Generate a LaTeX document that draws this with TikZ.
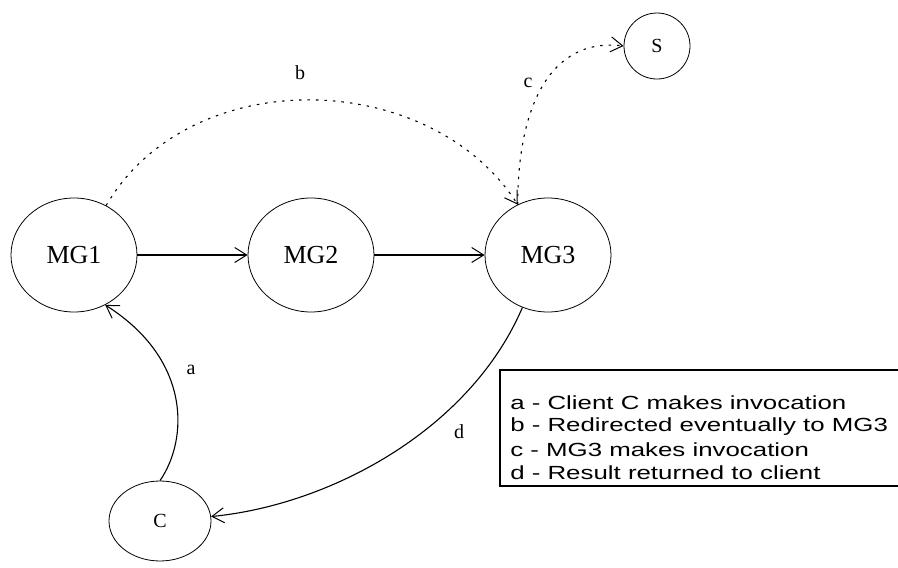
\documentclass[tikz,border=0pt]{standalone}
\usepackage{fontspec}
\setmainfont{Liberation Serif}
\newfontfamily\legfont{Liberation Sans}
\usetikzlibrary{shapes.geometric,arrows.meta}
\begin{document}
\begin{tikzpicture}[x=1pt,y=-1pt,
  mgnode/.style={draw, line width=0.8pt, ellipse, inner sep=0pt, minimum width=126pt, minimum height=114pt, font=\fontsize{26}{30}\selectfont},
  smallnode/.style={draw, line width=0.8pt, ellipse, inner sep=0pt, font=\fontsize{20}{24}\selectfont},
  tip/.style={-{Straight Barb[length=12pt,width=15pt,line width=1pt]}},
  solidcon/.style={tip, line width=1.1pt},
  dotcon/.style={tip, line width=1.1pt, dash pattern=on 2.5pt off 6pt},
  lbl/.style={font=\fontsize{20}{24}\selectfont, inner sep=1pt},
  legline/.style={anchor=west, inner sep=0pt, font=\legfont\fontsize{19}{22}\selectfont, xscale=1.36}
]
\useasboundingbox (0,0) rectangle (898,568);
\node[mgnode] (mg1) at (74,255) {MG1};
\node[mgnode] (mg2) at (311,255) {MG2};
\node[mgnode] (mg3) at (548,255) {MG3};
\node[smallnode, minimum width=102pt, minimum height=80pt] (c) at (160,521) {C};
\node[smallnode, minimum width=66pt, minimum height=66pt] (s) at (657,46) {S};

\draw[solidcon, line width=1.6pt] (mg1) -- (mg2);
\draw[solidcon, line width=1.6pt] (mg2) -- (mg3);

\draw[solidcon] (c.90) .. controls (188,440) and (192,360) .. (mg1.-58);
\draw[solidcon] (mg3.-116) .. controls (470,430) and (330,505) .. (c.5);
\draw[dotcon] (mg1.57) .. controls (190,62) and (430,68) .. (mg3.121);
\draw[dotcon] (mg3.121) .. controls (518,90) and (560,38) .. (s.180);

\node[lbl] (la) at (191,370) {a};
\node[lbl] (lb) at (300,73) {b};
\node[lbl] (lc) at (528,83) {c};
\node[lbl] (ld) at (459,432) {d};

\draw[line width=1.2pt] (898,370) -- (500,370) -- (500,486) -- (898,486);
\node[legline] (l1) at (510,403) {a - Client C makes invocation};
\node[legline] (l2) at (510,427) {b - Redirected eventually to MG3};
\node[legline] (l3) at (510,450) {c - MG3 makes invocation};
\node[legline] (l4) at (510,473) {d - Result returned to client};
\end{tikzpicture}
\end{document}
